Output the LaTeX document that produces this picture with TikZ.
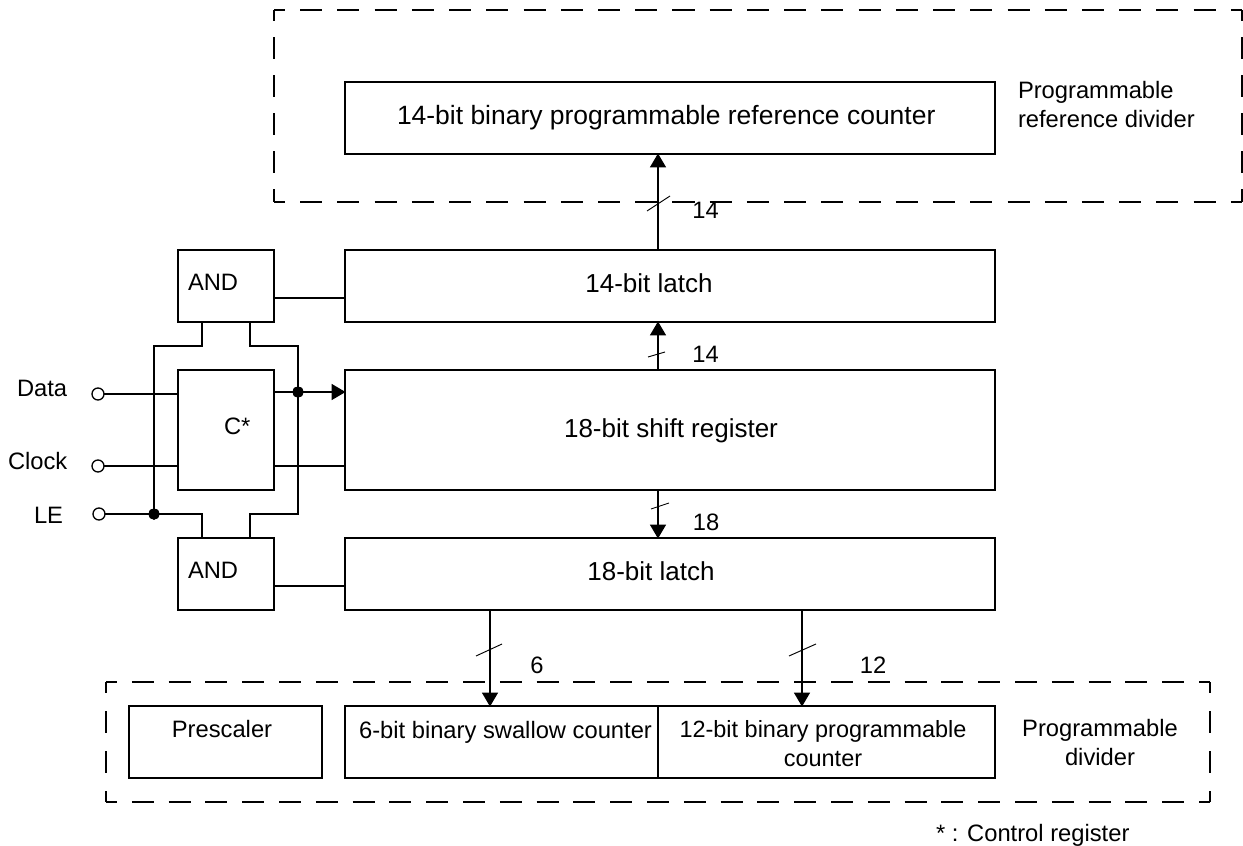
\documentclass[tikz,border=0pt]{standalone}
\usepackage{fontspec}
\setmainfont{Liberation Sans}
\usetikzlibrary{arrows.meta}
\tikzset{
  box/.style={draw,rectangle,line width=1.35pt,inner sep=0pt,outer sep=0pt},
  wire/.style={line width=1.35pt},
  bus/.style={wire,-{Triangle[width=12pt,length=10.5pt]},shorten >=-0.4pt},
  slashmark/.style={line width=0.7pt},
  txt/.style={inner sep=0pt,outer sep=0pt,anchor=base,font=\fontsize{17.8}{21.75}\selectfont},
  big/.style={txt,font=\fontsize{19.5}{21.75}\selectfont},
  two/.style={inner sep=0pt,outer sep=0pt,font=\fontsize{17.8}{21.75}\selectfont},
  pin/.style={draw,circle,line width=1pt,fill=white,minimum size=9pt,inner sep=0pt,outer sep=0pt},
  dot/.style={draw,circle,fill=black,minimum size=8pt,inner sep=0pt,outer sep=0pt},
  dashH/.style={line width=1.35pt,dash pattern=on 16.5pt off 11.42pt,dash phase=8.25pt},
  dashV/.style={line width=1.35pt,dash pattern=on 16.5pt off 12.0pt,dash phase=8.25pt},
  dashHb/.style={line width=1.35pt,dash pattern=on 16.5pt off 11.1pt,dash phase=8.25pt},
  dashVb/.style={line width=1.35pt,dash pattern=on 16.5pt off 13.5pt,dash phase=8.25pt},
}
\begin{document}
\begin{tikzpicture}[x=0.75pt,y=-0.75pt]
\useasboundingbox (0,0) rectangle (1243,846);
% dashed groups
\draw[dashH] (274,10) -- (1242,10);
\draw[dashH] (274,202) -- (1242,202);
\draw[dashV] (274,10) -- (274,202);
\draw[dashV] (1242,10) -- (1242,202);
\draw[dashHb] (106,682) -- (1210,682);
\draw[dashHb] (106,802) -- (1210,802);
\draw[dashVb] (106,682) -- (106,802);
\draw[dashVb] (1210,682) -- (1210,802);
% boxes
\node[box,minimum width=487.5pt,minimum height=54pt] (refc) at (670,118) {};
\node[box,minimum width=487.5pt,minimum height=54pt] (lat14) at (670,286) {};
\node[box,minimum width=487.5pt,minimum height=90pt] (shift) at (670,430) {};
\node[box,minimum width=487.5pt,minimum height=54pt] (lat18) at (670,574) {};
\node[box,minimum width=144.75pt,minimum height=54pt] (pre) at (225.5,742) {};
\node[box,minimum width=234.75pt,minimum height=54pt] (swal) at (501.5,742) {};
\node[box,minimum width=252.75pt,minimum height=54pt] (prog) at (826.5,742) {};
\node[box,minimum width=72pt,minimum height=54pt] (andT) at (226,286) {};
\node[box,minimum width=72pt,minimum height=90pt] (ctl) at (226,430) {};
\node[box,minimum width=72pt,minimum height=54pt] (andB) at (226,574) {};
% pins and junctions
\node[pin] (pd) at (98,394) {};
\node[pin] (pc) at (98,466) {};
\node[pin] (pl) at (99,514) {};
\node[dot] (j1) at (154,514) {};
\node[dot] (j2) at (298,392) {};
% bus reference x positions
\coordinate (bm) at (658,0);
\coordinate (bs) at (490,0);
\coordinate (bp) at (802,0);
\coordinate (al) at (202,0);
\coordinate (ar) at (250,0);
\coordinate (yT) at (0,346);
\coordinate (yclk) at (0,466);
\coordinate (yT2) at (0,298);
\coordinate (yB2) at (0,586);
% connectors
\draw[wire] (pd) -- (pd -| ctl.west);
\draw[wire] (pc) -- (pc -| ctl.west);
\draw[wire] (yclk -| ctl.east) -- (yclk -| shift.west);
\draw[bus] (j2 -| ctl.east) -- (j2 -| shift.west);
\draw[wire] (yT2 -| andT.east) -- (yT2 -| lat14.west);
\draw[wire] (yB2 -| andB.east) -- (yB2 -| lat18.west);
\draw[wire] (pl) -- (pl -| al) -- (al |- andB.north);
\draw[wire] (j1.center) -- (j1 |- yT) -- (al |- yT) -- (al |- andT.south);
\draw[wire] (ar |- andT.south) -- (ar |- yT) -- (j2 |- yT) -- (j2 |- pl) -- (ar |- pl) -- (ar |- andB.north);
\draw[bus] (bm |- lat14.north) -- (bm |- refc.south);
\draw[bus] (bm |- shift.north) -- (bm |- lat14.south);
\draw[bus] (bm |- shift.south) -- (bm |- lat18.north);
\draw[bus] (bs |- lat18.south) -- (bs |- swal.north);
\draw[bus] (bp |- lat18.south) -- (bp |- prog.north);
\node[dot] at (j1) {};
\node[dot] at (j2) {};
% bus slashes
\draw[slashmark] (647,211) -- (670,196);
\draw[slashmark] (648,357) -- (665,352);
\draw[slashmark] (651,509) -- (669,503);
\draw[slashmark] (476,656) -- (502,644);
\draw[slashmark] (789,656) -- (816,644);
% texts
\node[big,anchor=base west,font=\fontsize{19.85}{21.75}\selectfont] (t1) at (397,124) {14-bit binary programmable reference counter};
\node[big] (t2) at (649,292) {14-bit latch};
\node[big] (t3) at (671,437) {18-bit shift register};
\node[big] (t4) at (651,580) {18-bit latch};
\node[txt] (t5) at (222,737) {Prescaler};
\node[txt] (t6) at (505.5,738) {6-bit binary swallow counter};
\node[two,align=center,font=\fontsize{17.6}{21.75}\selectfont] (t7) at (823,744) {12-bit binary programmable\\counter};
\node[two,align=left,anchor=west] (t8) at (1018,105) {Programmable\\reference divider};
\node[two,align=center] (t9) at (1100,742.5) {Programmable\\divider};
\node[txt,anchor=base west] (t10) at (188,290) {AND};
\node[txt,anchor=base west] (t11) at (188,578) {AND};
\node[txt,anchor=base west] (t12) at (224,434) {C*};
\node[txt,anchor=base west] (t13) at (17,396) {Data};
\node[txt,anchor=base west] (t14) at (8,469) {Clock};
\node[txt,anchor=base west] (t15) at (34,523) {LE};
\node[txt] (t16) at (705.5,218) {14};
\node[txt] (t17) at (705.5,362) {14};
\node[txt] (t18) at (706,530) {18};
\node[txt] (t19) at (537,673) {6};
\node[txt] (t20) at (873,673) {12};
\node[txt,anchor=base west] (t21) at (936,841.5) {* : Control register};
\end{tikzpicture}
\end{document}
